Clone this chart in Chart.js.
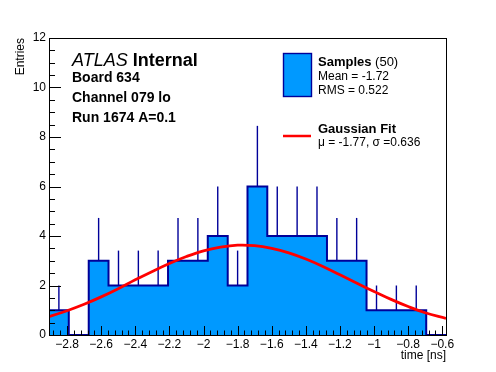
<!DOCTYPE html>
<html>
<head>
<meta charset="utf-8">
<script src="https://cdn.jsdelivr.net/npm/chart.js@4.4.0/dist/chart.umd.min.js"></script>
<style>
    body { margin: 0; background: #ffffff; }
</style>
</head>
<body>
<canvas id="chart" width="496" height="372"></canvas>
<script>
// histogram: 20 bins, edges in ns
var binEdges = [-2.906, -2.790, -2.673, -2.557, -2.440, -2.324, -2.208, -2.091, -1.975, -1.858,
                -1.742, -1.626, -1.509, -1.393, -1.276, -1.160, -1.044, -0.927, -0.811, -0.694, -0.578];
var counts = [1, 0, 3, 2, 2, 2, 3, 3, 4, 2, 6, 4, 4, 4, 3, 3, 1, 1, 1, 0];
var errors = [1, 0, 1.73, 1.41, 1.41, 1.41, 1.73, 1.73, 2, 1.41, 2.45, 2, 2, 2, 1.73, 1.73, 1, 1, 1, 0];

// gaussian fit curve
var fitX = [-2.906, -2.8, -2.7, -2.6, -2.5, -2.4, -2.3, -2.2, -2.1, -2.0, -1.9, -1.8,
            -1.7, -1.6, -1.5, -1.4, -1.3, -1.2, -1.1, -1.0, -0.9, -0.8, -0.7, -0.578];
var fitY = [0.74, 0.98, 1.24, 1.54, 1.87, 2.23, 2.57, 2.89, 3.17, 3.40, 3.55, 3.63,
            3.61, 3.50, 3.32, 3.07, 2.77, 2.43, 2.09, 1.76, 1.44, 1.15, 0.90, 0.67];

var xTicks = [-2.8, -2.6, -2.4, -2.2, -2, -1.8, -1.6, -1.4, -1.2, -1, -0.8, -0.6];
var yTicks = [0, 2, 4, 6, 8, 10, 12];

var infoLines = ['Board 634', 'Channel 079 lo', 'Run 1674 A=0.1'];
var sampleText = ['Mean = -1.72', 'RMS = 0.522'];
var fitText = '\u03bc = -1.77, \u03c3 =0.636';

var FONT = '"Liberation Sans", Arial, sans-serif';
var fillBlue = '#0099ff';
var lineBlue = '#000099';

var histData = [];
for (var i = 0; i < counts.length; i++) {
    histData.push({x: binEdges[i], y: counts[i]});
}
histData.push({x: binEdges[binEdges.length - 1], y: 0});

var fitData = [];
for (var j = 0; j < fitX.length; j++) {
    fitData.push({x: fitX[j], y: fitY[j]});
}

function minus(v) {
    var s = String(Math.round(v * 10) / 10);
    return s.replace('-', '\u2212');
}

var rootStyle = {
    id: 'rootStyle',
    beforeDatasetsDraw: function(chart) {
        // error bars, lower half gets covered by the fill
        var ctx = chart.ctx, xs = chart.scales.x, ys = chart.scales.y;
        ctx.save();
        ctx.strokeStyle = lineBlue;
        ctx.lineWidth = 1.4;
        for (var i = 0; i < counts.length; i++) {
            if (errors[i] <= 0) continue;
            var cx = xs.getPixelForValue((binEdges[i] + binEdges[i + 1]) / 2);
            ctx.beginPath();
            ctx.moveTo(cx, ys.getPixelForValue(counts[i] - errors[i]));
            ctx.lineTo(cx, ys.getPixelForValue(counts[i] + errors[i]));
            ctx.stroke();
        }
        ctx.restore();
    },
    afterDatasetsDraw: function(chart) {
        var ctx = chart.ctx, a = chart.chartArea;
        var xs = chart.scales.x, ys = chart.scales.y;
        ctx.save();
        ctx.strokeStyle = '#000000';
        ctx.lineWidth = 1;
        ctx.strokeRect(Math.round(a.left) + 0.5, Math.round(a.top) + 0.5,
                       Math.round(a.right - a.left), Math.round(a.bottom - a.top));

        // ticks pointing inward, like ROOT
        ctx.beginPath();
        for (var v = 0; v <= 12.001; v += 0.5) {
            var py = Math.round(ys.getPixelForValue(v)) + 0.5;
            var len = (Math.abs(v / 2 - Math.round(v / 2)) < 0.01) ? 12 : 6;
            ctx.moveTo(a.left, py);
            ctx.lineTo(a.left + len, py);
        }
        for (var k = 0; k < 60; k++) {
            var xv = -2.88 + k * 0.04;
            if (xv > xs.max) break;
            var px = Math.round(xs.getPixelForValue(xv)) + 0.5;
            var major = (k % 5 === 2);
            ctx.moveTo(px, a.bottom);
            ctx.lineTo(px, a.bottom - (major ? 9 : 4.5));
        }
        ctx.stroke();
        ctx.restore();
    },
    afterDraw: function(chart) {
        var ctx = chart.ctx;
        ctx.save();
        ctx.fillStyle = '#000000';
        ctx.textBaseline = 'alphabetic';
        ctx.textAlign = 'left';

        // axis titles
        ctx.font = '12px ' + FONT;
        ctx.textAlign = 'right';
        ctx.fillText('time [ns]', 446, 359);
        ctx.save();
        ctx.translate(24, 38);
        ctx.rotate(-Math.PI / 2);
        ctx.fillText('Entries', 0, 0);
        ctx.restore();
        ctx.textAlign = 'left';

        // ATLAS label
        ctx.font = 'italic 18px ' + FONT;
        ctx.fillText('ATLAS', 72, 66);
        var w = ctx.measureText('ATLAS ').width;
        ctx.font = 'bold 18px ' + FONT;
        ctx.fillText('Internal', 72 + w, 66);
        ctx.font = 'bold 14px ' + FONT;
        for (var i = 0; i < infoLines.length; i++) {
            ctx.fillText(infoLines[i], 72, 82 + i * 20);
        }

        // legend
        ctx.fillStyle = fillBlue;
        ctx.fillRect(283, 53, 28, 44);
        ctx.strokeStyle = lineBlue;
        ctx.lineWidth = 1.4;
        ctx.strokeRect(283.5, 53.5, 28, 43);
        ctx.fillStyle = '#000000';
        ctx.font = 'bold 13px ' + FONT;
        ctx.fillText('Samples', 318, 66);
        var sw = ctx.measureText('Samples').width;
        ctx.font = '13px ' + FONT;
        ctx.fillText(' (50)', 318 + sw, 66);
        ctx.font = '12px ' + FONT;
        ctx.fillText(sampleText[0], 318, 80);
        ctx.fillText(sampleText[1], 318, 94);

        ctx.strokeStyle = '#ff0000';
        ctx.lineWidth = 2.5;
        ctx.beginPath();
        ctx.moveTo(283, 136);
        ctx.lineTo(311, 136);
        ctx.stroke();
        ctx.font = 'bold 13px ' + FONT;
        ctx.fillText('Gaussian Fit', 318, 133);
        ctx.font = '12px ' + FONT;
        ctx.fillText(fitText, 318, 146);
        ctx.restore();
    }
};

Chart.defaults.font.family = FONT;
Chart.defaults.color = '#000000';

var ctx = document.getElementById('chart').getContext('2d');
new Chart(ctx, {
    type: 'line',
    data: {
        datasets: [{
            label: 'Samples',
            data: histData,
            stepped: 'before',
            fill: 'origin',
            backgroundColor: fillBlue,
            borderColor: lineBlue,
            borderWidth: 2,
            pointRadius: 0,
            order: 2
        }, {
            label: 'Gaussian Fit',
            data: fitData,
            borderColor: '#ff0000',
            borderWidth: 2.8,
            tension: 0.4,
            pointRadius: 0,
            fill: false,
            order: 1
        }]
    },
    options: {
        responsive: false,
        animation: false,
        layout: { padding: { left: 0, top: 38, right: 50, bottom: 0 } },
        plugins: {
            legend: { display: false },
            tooltip: { enabled: false }
        },
        scales: {
            x: {
                type: 'linear',
                min: binEdges[0],
                max: binEdges[binEdges.length - 1],
                grid: { display: false, drawTicks: false },
                border: { display: false },
                afterBuildTicks: function(scale) {
                    scale.ticks = xTicks.map(function(v) { return {value: v}; });
                },
                afterFit: function(scale) { scale.height = 37; },
                ticks: {
                    autoSkip: false,
                    maxRotation: 0,
                    padding: 2,
                    font: { size: 12 },
                    callback: function(v) { return minus(v); }
                }
            },
            y: {
                type: 'linear',
                min: 0,
                max: 12,
                grid: { display: false, drawTicks: false },
                border: { display: false },
                afterBuildTicks: function(scale) {
                    scale.ticks = yTicks.map(function(v) { return {value: v}; });
                },
                afterFit: function(scale) { scale.width = 49; },
                ticks: {
                    padding: 3,
                    font: { size: 12 }
                }
            }
        }
    },
    plugins: [rootStyle]
});
</script>
</body>
</html>
